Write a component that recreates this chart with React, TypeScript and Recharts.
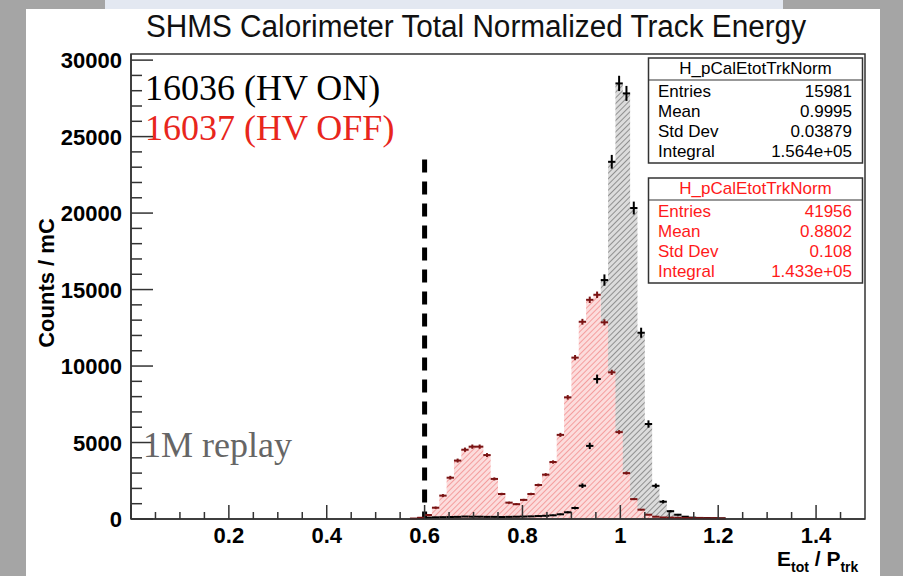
import React from 'react'
import {
  ComposedChart,
  Area,
  Scatter,
  ErrorBar,
  XAxis,
  YAxis,
  ReferenceLine,
  ReferenceArea,
} from 'recharts'

// histogram binning: 100 bins over [0, 1.5], only the filled region is listed
const BIN_WIDTH = 0.015
const FIRST_CENTER = 0.5775 // centre of the first listed bin

// run 16036 (HV ON), counts / mC per bin
const HV_ON = [
  0, 60, 90, 110, 120, 130, 140, 160, 150, 150, 140, 140, 130, 140, 150, 160, 170, 190, 210, 241,
  307, 438, 719, 2177, 4780, 9150, 15621, 23353, 28477, 27824, 20330, 12176, 6209, 2170, 1131, 510,
  280, 150, 90, 70, 60, 50, 40, 0, 0,
]
// run 16037 (HV OFF)
const HV_OFF = [
  30, 80, 261, 739, 1530, 2700, 3820, 4530, 4730, 4730, 4180, 2620, 1634, 1070, 970, 1250, 1634,
  2222, 2900, 3725, 5500, 7954, 10550, 12895, 14330, 14660, 12856, 9588, 5680, 3000, 1300, 610, 280,
  150, 100, 90, 80, 70, 60, 60, 50, 50, 40, 0, 0,
]
const ERR_ON = [
  0, 25, 30, 30, 30, 30, 30, 35, 35, 35, 30, 30, 30, 30, 35, 35, 35, 40, 40, 45, 50, 60, 90, 150,
  210, 290, 370, 450, 500, 490, 420, 330, 240, 150, 110, 70, 50, 35, 30, 25, 25, 20, 20, 0, 0,
]
const ERR_OFF = [
  15, 25, 50, 75, 100, 120, 130, 140, 140, 140, 130, 100, 80, 65, 65, 70, 80, 90, 100, 110, 130,
  150, 170, 190, 210, 210, 200, 170, 130, 100, 65, 45, 30, 25, 20, 20, 20, 20, 20, 20, 20, 20, 20, 0,
  0,
]

const X_TICKS = [
  0, 0.05, 0.1, 0.15, 0.2, 0.25, 0.3, 0.35, 0.4, 0.45, 0.5, 0.55, 0.6, 0.65, 0.7, 0.75, 0.8, 0.85,
  0.9, 0.95, 1, 1.05, 1.1, 1.15, 1.2, 1.25, 1.3, 1.35, 1.4, 1.45,
]
const Y_TICKS = [
  0, 1000, 2000, 3000, 4000, 5000, 6000, 7000, 8000, 9000, 10000, 11000, 12000, 13000, 14000, 15000,
  16000, 17000, 18000, 19000, 20000, 21000, 22000, 23000, 24000, 25000, 26000, 27000, 28000, 29000,
  30000,
]

const CUT = 0.6

const rows = HV_ON.map((on, i) => ({
  x: FIRST_CENTER + i * BIN_WIDTH,
  on,
  off: HV_OFF[i],
  errOn: ERR_ON[i],
  errOff: ERR_OFF[i],
  halfBin: BIN_WIDTH / 2,
}))
const onPoints = rows.filter((r) => r.on > 0)
const offPoints = rows.filter((r) => r.off > 0)

const SANS = "'Liberation Sans', Arial, Helvetica, sans-serif"
const SERIF = "'Liberation Serif', 'Times New Roman', serif"
const AXIS = '#333'

const renderXTick = (props: any) => {
  const { x, y, payload } = props
  const v = payload.value
  const major = Math.abs(v * 5 - Math.round(v * 5)) < 1e-6
  return (
    <g key={`xt-${v}`}>
      <line x1={x} x2={x} y1={y} y2={y - (major ? 14 : 7)} stroke={AXIS} strokeWidth={1.5} />
      {major && v > 0 && (
        <text x={x} y={y + 24} textAnchor="middle" fontFamily={SANS} fontWeight="bold" fontSize={22} fill="#000">
          {String(Math.round(v * 10) / 10)}
        </text>
      )}
    </g>
  )
}

const renderYTick = (props: any) => {
  const { x, y, payload } = props
  const v = payload.value
  const major = v % 5000 === 0
  return (
    <g key={`yt-${v}`}>
      <line x1={x} x2={x + (major ? 22 : 11)} y1={y} y2={y} stroke={AXIS} strokeWidth={1.5} />
      {major && (
        <text x={x - 9} y={y + 8} textAnchor="end" fontFamily={SANS} fontWeight="bold" fontSize={22} fill="#000">
          {v}
        </text>
      )}
    </g>
  )
}

const noMark = () => <g />

function StatBox({ top, color, entries, mean, std, integral }: any) {
  const rowsTxt = [
    ['Entries', entries],
    ['Mean', mean],
    ['Std Dev', std],
    ['Integral', integral],
  ]
  return (
    <g fontFamily={SANS} fontSize={17} fill={color}>
      <rect x={648.5} y={top} width={214} height={105} fill="#fff" stroke="#333" strokeWidth={1.5} />
      <line x1={648.5} x2={862.5} y1={top + 22} y2={top + 22} stroke="#333" strokeWidth={1.2} />
      <text x={755.5} y={top + 16} textAnchor="middle">
        H_pCalEtotTrkNorm
      </text>
      {rowsTxt.map(([k, v], i) => (
        <g key={k}>
          <text x={658} y={top + 38.5 + i * 20.2}>
            {k}
          </text>
          <text x={852} y={top + 38.5 + i * 20.2} textAnchor="end">
            {v}
          </text>
        </g>
      ))}
    </g>
  )
}

export default function App() {
  return (
    <div style={{ position: 'absolute', left: 0, top: 0, width: 903, height: 576, background: '#fff', overflow: 'hidden' }}>
      {/* screenshot surroundings */}
      <div style={{ position: 'absolute', left: 0, top: 0, width: 903, height: 9, background: '#a5a5a5' }} />
      <div style={{ position: 'absolute', left: 105, top: 0, width: 678, height: 9, background: '#e3e8f1' }} />
      <div style={{ position: 'absolute', left: 0, top: 0, width: 26, height: 576, background: '#a5a5a5' }} />
      <div style={{ position: 'absolute', left: 880, top: 0, width: 23, height: 576, background: '#a5a5a5' }} />

      <div style={{ position: 'absolute', left: 0, top: 0 }}>
        <ComposedChart width={903} height={576} data={rows} margin={{ top: 54, right: 38, bottom: 56, left: 130 }}>
          <defs>
            <pattern id="hatchOn" patternUnits="userSpaceOnUse" width="4" height="4" patternTransform="rotate(45)">
              <rect width="4" height="4" fill="#dcdcdc" />
              <line x1="0" y1="0" x2="0" y2="4" stroke="#7c7c7c" strokeWidth="1.6" />
            </pattern>
            <pattern id="hatchOff" patternUnits="userSpaceOnUse" width="4" height="4" patternTransform="rotate(45)">
              <rect width="4" height="4" fill="#fcdcdc" />
              <line x1="0" y1="0" x2="0" y2="4" stroke="#f28e8e" strokeWidth="1.6" />
            </pattern>
          </defs>
          <XAxis
            type="number"
            dataKey="x"
            domain={[0, 1.5]}
            ticks={X_TICKS}
            interval={0}
            height={1}
            tickSize={0}
            tickMargin={0}
            tickLine={false}
            tick={renderXTick}
            axisLine={{ stroke: AXIS, strokeWidth: 1.5 }}
            allowDataOverflow
          />
          <YAxis
            type="number"
            domain={[0, 30400]}
            ticks={Y_TICKS}
            interval={0}
            width={1}
            tickSize={0}
            tickMargin={0}
            tickLine={false}
            tick={renderYTick}
            axisLine={{ stroke: AXIS, strokeWidth: 1.5 }}
            allowDataOverflow
          />
          <Area
            type="step"
            dataKey="on"
            stroke="none"
            fill="url(#hatchOn)"
            fillOpacity={1}
            isAnimationActive={false}
          />
          <Area
            type="step"
            dataKey="off"
            stroke="none"
            fill="url(#hatchOff)"
            fillOpacity={1}
            isAnimationActive={false}
          />
          <ReferenceLine
            segment={[
              { x: CUT, y: 23500 },
              { x: CUT, y: 0 },
            ]}
            stroke="#000"
            strokeWidth={5}
            strokeDasharray="13 9"
          />
          <Scatter data={onPoints} dataKey="on" shape={noMark} isAnimationActive={false}>
            <ErrorBar dataKey="halfBin" direction="x" width={0} stroke="#000" strokeWidth={2} />
            <ErrorBar dataKey="errOn" direction="y" width={0} stroke="#000" strokeWidth={2} />
          </Scatter>
          <Scatter data={offPoints} dataKey="off" shape={noMark} isAnimationActive={false}>
            <ErrorBar dataKey="halfBin" direction="x" width={0} stroke="#7a1414" strokeWidth={2} />
            <ErrorBar dataKey="errOff" direction="y" width={0} stroke="#7a1414" strokeWidth={2} />
          </Scatter>
          <ReferenceArea x1={0} x2={1.5} y1={0} y2={30400} fill="none" stroke={AXIS} strokeWidth={1.5} />
        </ComposedChart>
      </div>

      <svg width={903} height={576} style={{ position: 'absolute', left: 0, top: 0, pointerEvents: 'none' }}>
        <text x={476} y={37} textAnchor="middle" fontFamily={SANS} fontSize={31} fill="#111" textLength={660} lengthAdjust="spacingAndGlyphs">
          SHMS Calorimeter Total Normalized Track Energy
        </text>
        <text
          transform="translate(54 283) rotate(-90)"
          textAnchor="middle"
          fontFamily={SANS}
          fontWeight="bold"
          fontSize={22}
          fill="#000"
        >
          Counts / mC
        </text>
        <text x={777} y={566} fontFamily={SANS} fontWeight="bold" fontSize={21} fill="#000">
          E
          <tspan fontSize={14} dy={6}>
            tot
          </tspan>
          <tspan fontSize={21} dy={-6}>
            {' / P'}
          </tspan>
          <tspan fontSize={14} dy={6}>
            trk
          </tspan>
        </text>

        <text x={145} y={100} fontFamily={SERIF} fontSize={36} fill="#000">
          16036 (HV ON)
        </text>
        <text x={145} y={140} fontFamily={SERIF} fontSize={36} fill="#e8261c">
          16037 (HV OFF)
        </text>
        <text x={143} y={457} fontFamily={SERIF} fontSize={36} fill="#666">
          1M replay
        </text>

        <StatBox top={58} color="#000" entries="15981" mean="0.9995" std="0.03879" integral="1.564e+05" />
        <StatBox top={178} color="#ff1a1a" entries="41956" mean="0.8802" std="0.108" integral="1.433e+05" />
      </svg>
    </div>
  )
}
